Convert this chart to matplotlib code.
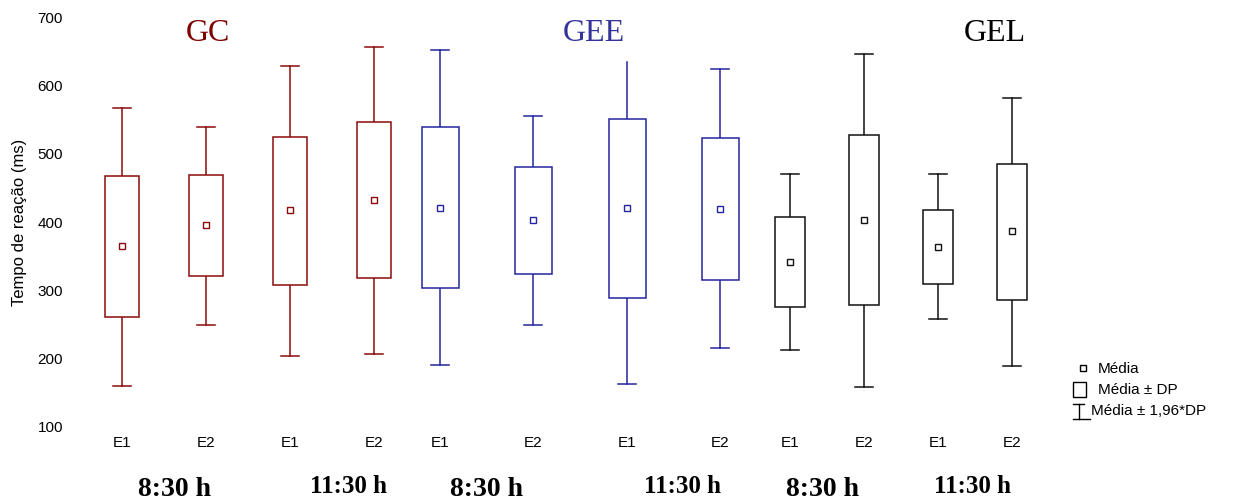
import matplotlib
matplotlib.use("Agg")
import matplotlib.pyplot as plt
from matplotlib.patches import Rectangle

# data (ms)
groups = ["GC", "GEE", "GEL"]
tick_labels = ["E1", "E2", "E1", "E2"] * 3
session_labels = ["8:30 h", "11:30 h"] * 3

means = [364.7, 395.0, 417.4, 432.1,
         420.8, 402.8, 420.4, 418.9,
         341.7, 402.8, 363.6, 386.7]
sd_low = [260.1, 320.2, 307.5, 317.3,
          303.1, 323.6, 288.0, 315.3,
          275.2, 278.2, 308.5, 285.0]
sd_high = [466.9, 469.2, 524.9, 546.5,
           539.2, 480.1, 551.3, 523.5,
           406.7, 527.0, 417.0, 485.3]
ci_low = [159.8, 248.8, 203.4, 206.3,
          189.7, 248.8, 162.3, 214.7,
          212.2, 157.9, 257.2, 188.7]
ci_high = [567.4, 539.6, 629.0, 656.5,
           651.6, 554.8, 634.0, 624.2,
           469.8, 646.2, 469.8, 581.2]

# layout (pixel positions of the composite figure)
W, H = 1241, 504
x_pos = [122, 206, 290, 374, 440, 533, 627, 720, 790, 864, 938, 1012]
box_w = [34] * 4 + [37] * 4 + [30] * 4
colors = ["#8b0a0a"] * 4 + ["#2424a0"] * 4 + ["#111111"] * 4
title_colors = ["#800000", "#333399", "#000000"]
title_x = [208, 594, 995]
session_x = [175, 348, 487, 682, 823, 972]
session_y = [496, 493] * 3
session_size = [20, 18] * 3

fig = plt.figure(figsize=(W / 100, H / 100), dpi=100)
left = 65 / W
bottom = (H - 426.7) / H
top = (H - 17.3) / H
ax = fig.add_axes([left, bottom, 1 - left, top - bottom])
ax.set_xlim(65, W)
ax.set_ylim(100, 700)
for s in ax.spines.values():
    s.set_visible(False)

ax.set_yticks([100, 200, 300, 400, 500, 600, 700])
ax.tick_params(axis="y", length=0, pad=1.5, labelsize=11)
ax.set_xticks(x_pos)
ax.set_xticklabels(tick_labels)
ax.tick_params(axis="x", length=0, pad=6.5, labelsize=11)
for lab in ax.get_xticklabels() + ax.get_yticklabels():
    lab.set_fontfamily("Liberation Sans")

lw = 1.1
cap = 9
for i, x in enumerate(x_pos):
    c = colors[i]
    hw = box_w[i] / 2
    ax.add_patch(Rectangle((x - hw, sd_low[i]), box_w[i], sd_high[i] - sd_low[i],
                           facecolor="white", edgecolor=c, lw=lw, zorder=2))
    ax.plot([x, x], [sd_high[i], ci_high[i]], color=c, lw=lw, zorder=1)
    ax.plot([x, x], [ci_low[i], sd_low[i]], color=c, lw=lw, zorder=1)
    if i != 6:
        ax.plot([x - cap, x + cap], [ci_high[i], ci_high[i]], color=c, lw=lw)
    ax.plot([x - cap, x + cap], [ci_low[i], ci_low[i]], color=c, lw=lw)
    ax.plot(x, means[i], marker="s", ms=5, mfc="white", mec=c, mew=1, zorder=3)

# overlay in pixel coordinates for the free texts and the legend
ov = fig.add_axes([0, 0, 1, 1], zorder=5)
ov.set_xlim(0, W)
ov.set_ylim(H, 0)
ov.axis("off")
ov.patch.set_alpha(0)

fig.text(19.5 / W, 1 - 222 / H, "Tempo de reação (ms)", rotation=90,
         ha="center", va="center", fontsize=12, family="Liberation Sans")

for g, gx, gc in zip(groups, title_x, title_colors):
    ov.text(gx, 33.5, g, ha="center", va="center", fontsize=23,
            family="Liberation Serif", color=gc)

for lab, sx, sy, fs in zip(session_labels, session_x, session_y, session_size):
    ov.text(sx, sy, lab, ha="center", va="baseline", fontsize=fs,
            family="Liberation Serif", fontweight="bold")

# legend
ov.plot(1083, 368, marker="s", ms=5, mfc="white", mec="black", mew=1)
ov.text(1098, 369, "Média", ha="left", va="center", fontsize=11, family="Liberation Sans")
ov.add_patch(Rectangle((1073, 382), 13, 15, facecolor="white", edgecolor="black", lw=1))
ov.text(1098, 389.5, "Média ± DP", ha="left", va="center", fontsize=11, family="Liberation Sans")
ov.plot([1073, 1084], [404, 404], color="black", lw=1)
ov.plot([1078.5, 1078.5], [404, 419], color="black", lw=1)
ov.plot([1073, 1090], [419, 419], color="black", lw=1)
ov.text(1091, 411, "Média ± 1,96*DP", ha="left", va="center", fontsize=11, family="Liberation Sans")

fig.savefig("out.png", dpi=100, facecolor="white")
